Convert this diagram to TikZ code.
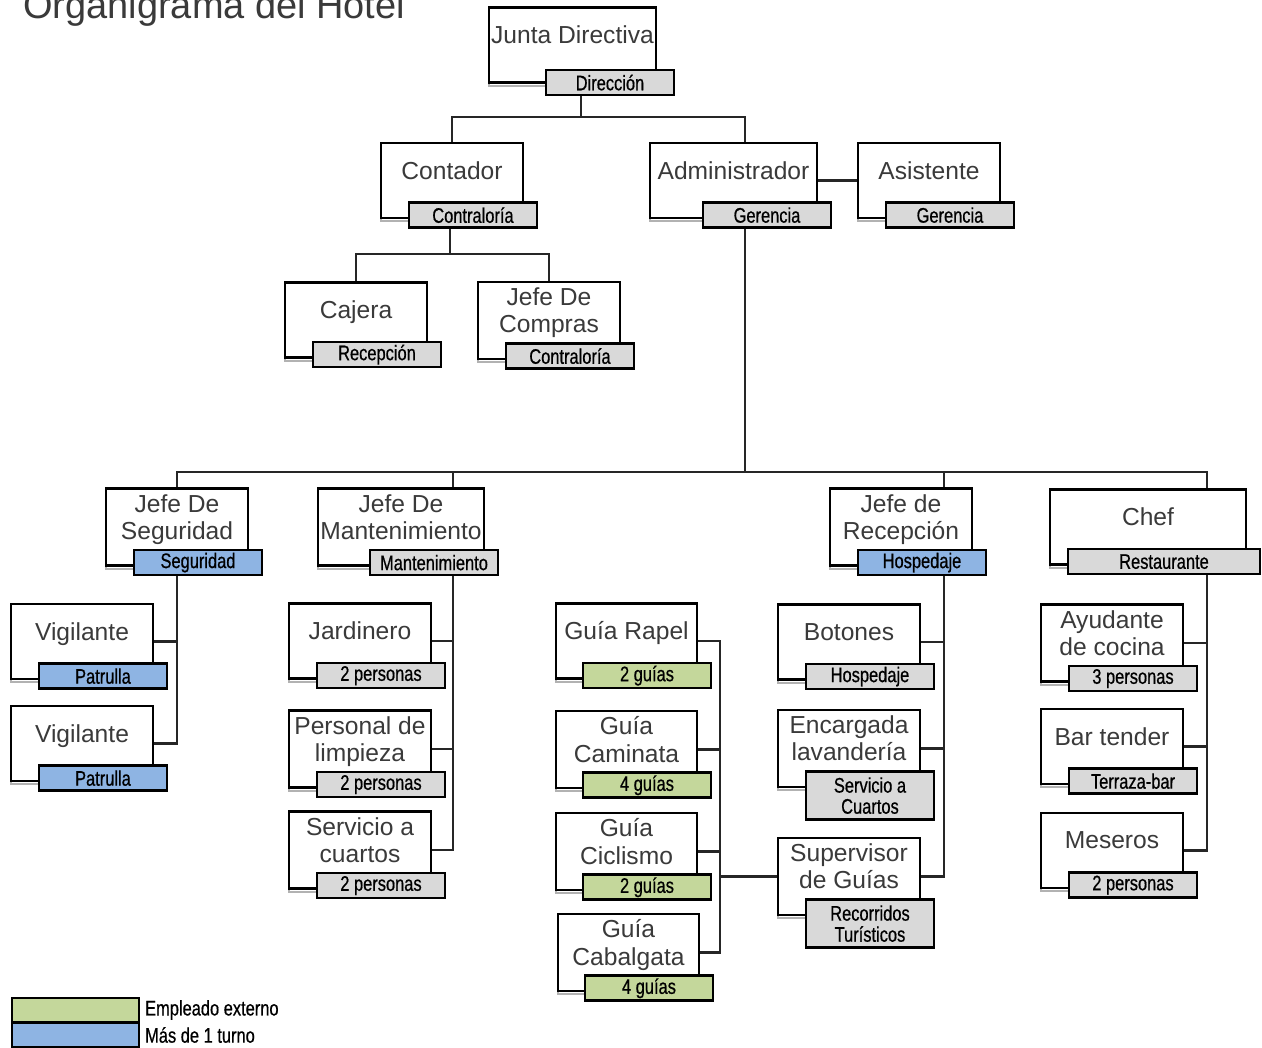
\documentclass[tikz,border=0pt]{standalone}
\usepackage{fontspec}
\setmainfont{Liberation Sans}
\newfontfamily\condensada[FakeStretch=0.78, FakeBold=0.6]{Liberation Sans}
\usetikzlibrary{positioning}
\definecolor{cverde}{HTML}{C4D79B}
\definecolor{cazul}{HTML}{8EB4E3}
\definecolor{cgris}{HTML}{D9D9D9}
\definecolor{ctexto}{HTML}{3A3A3A}
\tikzset{
  every picture/.style={line width=1.5pt},
  caja/.style={draw, fill=white, minimum width=#1*0.02cm, minimum height=75*0.02cm, inner xsep=1pt, align=center,
    text depth=11.5pt, font=\fontsize{14}{15.5}\selectfont, text=ctexto,
    preaction={draw=black!30, line width=1pt, transform canvas={yshift=-1.8pt}}},
  caja/.default=142,
  etiq/.style={draw, fill=#1, anchor=north east, minimum width=128*0.02cm, minimum height=25*0.02cm, inner sep=1pt,
    align=center, font=\condensada\fontsize{12}{12}\selectfont},
  etiq/.default=cgris,
  alta/.style={minimum height=48*0.02cm},
  linea/.style={draw=black!85, line width=1.5pt},
  leyenda/.style={draw, fill=#1, minimum width=127*0.02cm, minimum height=24*0.02cm},
  nota/.style={font=\condensada\fontsize{12}{12}\selectfont, inner sep=0pt},
  titulo/.style={font=\fontsize{21.6}{24}\selectfont, text=ctexto, anchor=base west, inner sep=0pt},
}

\begin{document}
\begin{tikzpicture}[x=0.02cm, y=-0.02cm]
  \useasboundingbox (0,0) rectangle (1262,1048);
  \node[titulo] (titulo) at (22,18) {Organigrama del Hotel};

  % direccion y gerencia
  \node[caja=167] (junta) at (572.5,45) {Junta Directiva};
  \node[etiq] (dirE) at ([shift={(18,-15)}]junta.south east) {Dirección};
  \node[caja] (conta) at (452,180.5) {Contador};
  \node[etiq] (contE) at ([shift={(14,-18)}]conta.south east) {Contraloría};
  \node[caja=167] (admin) at (733.5,180.5) {Administrador};
  \node[etiq] (gerE) at ([shift={(14,-18)}]admin.south east) {Gerencia};
  \node[caja] (asist) at (929,180.5) {Asistente};
  \node[etiq] (asiE) at ([shift={(14,-18)}]asist.south east) {Gerencia};
  \node[caja] (cajera) at (356,320) {Cajera};
  \node[etiq] (cajE) at ([shift={(14,-18)}]cajera.south east) {Recepción};
  \node[caja] (compras) at (549,320.5) {Jefe De\\Compras};
  \node[etiq] (comE) at ([shift={(14,-18)}]compras.south east) {Contraloría};

  % jefes de area
  \node[caja] (segur) at (177,527) {Jefe De\\Seguridad};
  \node[etiq=cazul] (segE) at ([shift={(14,-18)}]segur.south east) {Seguridad};
  \node[caja=166] (mant) at (401,527) {Jefe De\\Mantenimiento};
  \node[etiq] (mantE) at ([shift={(14,-18)}]mant.south east) {Mantenimiento};
  \node[caja] (recep) at (901,527) {Jefe de\\Recepción};
  \node[etiq=cazul] (recE) at ([shift={(14,-18)}]recep.south east) {Hospedaje};
  \node[caja=196] (chef) at (1148,527) {Chef};
  \node[etiq, minimum width=192*0.02cm] (chefE) at ([shift={(14,-18)}]chef.south east) {Restaurante};

  % personal
  \node[caja] (vig1) at (82,641.5) {Vigilante};
  \node[etiq=cazul] (vig1E) at ([shift={(14,-18)}]vig1.south east) {Patrulla};
  \node[caja] (vig2) at (82,743.5) {Vigilante};
  \node[etiq=cazul] (vig2E) at ([shift={(14,-18)}]vig2.south east) {Patrulla};
  \node[caja] (jard) at (360,641) {Jardinero};
  \node[etiq] (jardE) at ([shift={(14,-18)}]jard.south east) {2 personas};
  \node[caja] (limp) at (360,749) {Personal de\\limpieza};
  \node[etiq] (limpE) at ([shift={(14,-18)}]limp.south east) {2 personas};
  \node[caja] (serv) at (360,850) {Servicio a\\cuartos};
  \node[etiq] (servE) at ([shift={(14,-18)}]serv.south east) {2 personas};
  \node[caja=141] (rapel) at (626.5,641) {Guía Rapel};
  \node[etiq=cverde] (rapelE) at ([shift={(14,-18)}]rapel.south east) {2 guías};
  \node[caja=141] (camin) at (626.5,749.5) {Guía\\Caminata};
  \node[etiq=cverde] (caminE) at ([shift={(14,-18)}]camin.south east) {4 guías};
  \node[caja=141] (cicl) at (626.5,851.5) {Guía\\Ciclismo};
  \node[etiq=cverde] (ciclE) at ([shift={(14,-18)}]cicl.south east) {2 guías};
  \node[caja=141] (cabal) at (628.5,952.5) {Guía\\Cabalgata};
  \node[etiq=cverde] (cabalE) at ([shift={(14,-18)}]cabal.south east) {4 guías};
  \node[caja] (boton) at (849,642) {Botones};
  \node[etiq] (botonE) at ([shift={(14,-18)}]boton.south east) {Hospedaje};
  \node[caja] (lavan) at (849,748.5) {Encargada\\lavandería};
  \node[etiq, alta] (lavanE) at ([shift={(14,-18)}]lavan.south east) {Servicio a\\Cuartos};
  \node[caja] (super) at (849,876.5) {Supervisor\\de Guías};
  \node[etiq, alta] (superE) at ([shift={(14,-18)}]super.south east) {Recorridos\\Turísticos};
  \node[caja] (ayud) at (1112,643) {Ayudante\\de cocina};
  \node[etiq] (ayudE) at ([shift={(14,-18)}]ayud.south east) {3 personas};
  \node[caja] (bar) at (1112,746.5) {Bar tender};
  \node[etiq] (barE) at ([shift={(14,-18)}]bar.south east) {Terraza-bar};
  \node[caja] (meser) at (1112,850.5) {Meseros};
  \node[etiq] (meserE) at ([shift={(14,-18)}]meser.south east) {2 personas};

  % conexiones
  \coordinate (b1) at (581,117);
  \coordinate (b2) at (450,254);
  \coordinate (b3) at (745,472);
  \coordinate (tMan) at (453,0);
  \coordinate (tGuia) at (720,0);
  \coordinate (tRec) at (944,0);
  \coordinate (tChef) at (1207,0);
  \draw[linea] (dirE.south -| b1) -- (b1);
  \draw[linea] (conta.north) |- (b1) -| (admin.north -| b3);
  \draw[linea] (admin) -- (asist);
  \draw[linea] (contE.south -| b2) -- (b2);
  \draw[linea] (cajera.north) |- (b2) -| (compras.north);
  \draw[linea] (gerE.south -| b3) -- (b3);
  \draw[linea] (segur.north) |- (b3) -| (chef.north -| tChef);
  \foreach \t/\n in {tMan/mant, tRec/recep} \draw[linea] (b3 -| \t) -- (\n.north -| \t);
  \draw[linea] (segE.south -| segur) |- (vig2.east);
  \draw[linea] (vig1.east) -- (vig1.east -| segur);
  \draw[linea] (mantE.south -| tMan) |- (serv.east);
  \foreach \n in {jard, limp} \draw[linea] (\n.east) -- (\n.east -| tMan);
  \draw[linea] (rapel.east) -| (tGuia |- cabal.east) -- (cabal.east);
  \foreach \n in {camin, cicl} \draw[linea] (\n.east) -- (\n.east -| tGuia);
  \draw[linea] (super.west) -- (super.west -| tGuia);
  \draw[linea] (recE.south -| tRec) |- (super.east);
  \foreach \n in {boton, lavan} \draw[linea] (\n.east) -- (\n.east -| tRec);
  \draw[linea] (chefE.south -| tChef) |- (meser.east);
  \foreach \n in {ayud, bar} \draw[linea] (\n.east) -- (\n.east -| tChef);

  % leyenda
  \node[leyenda=cverde] (lverde) at (75.5,1010) {};
  \node[leyenda=cazul] (lazul) at (75.5,1035) {};
  \node[nota, right=2pt of lverde] (tverde) {Empleado externo};
  \node[nota, right=2pt of lazul] (tazul) {Más de 1 turno};
\end{tikzpicture}
\end{document}
